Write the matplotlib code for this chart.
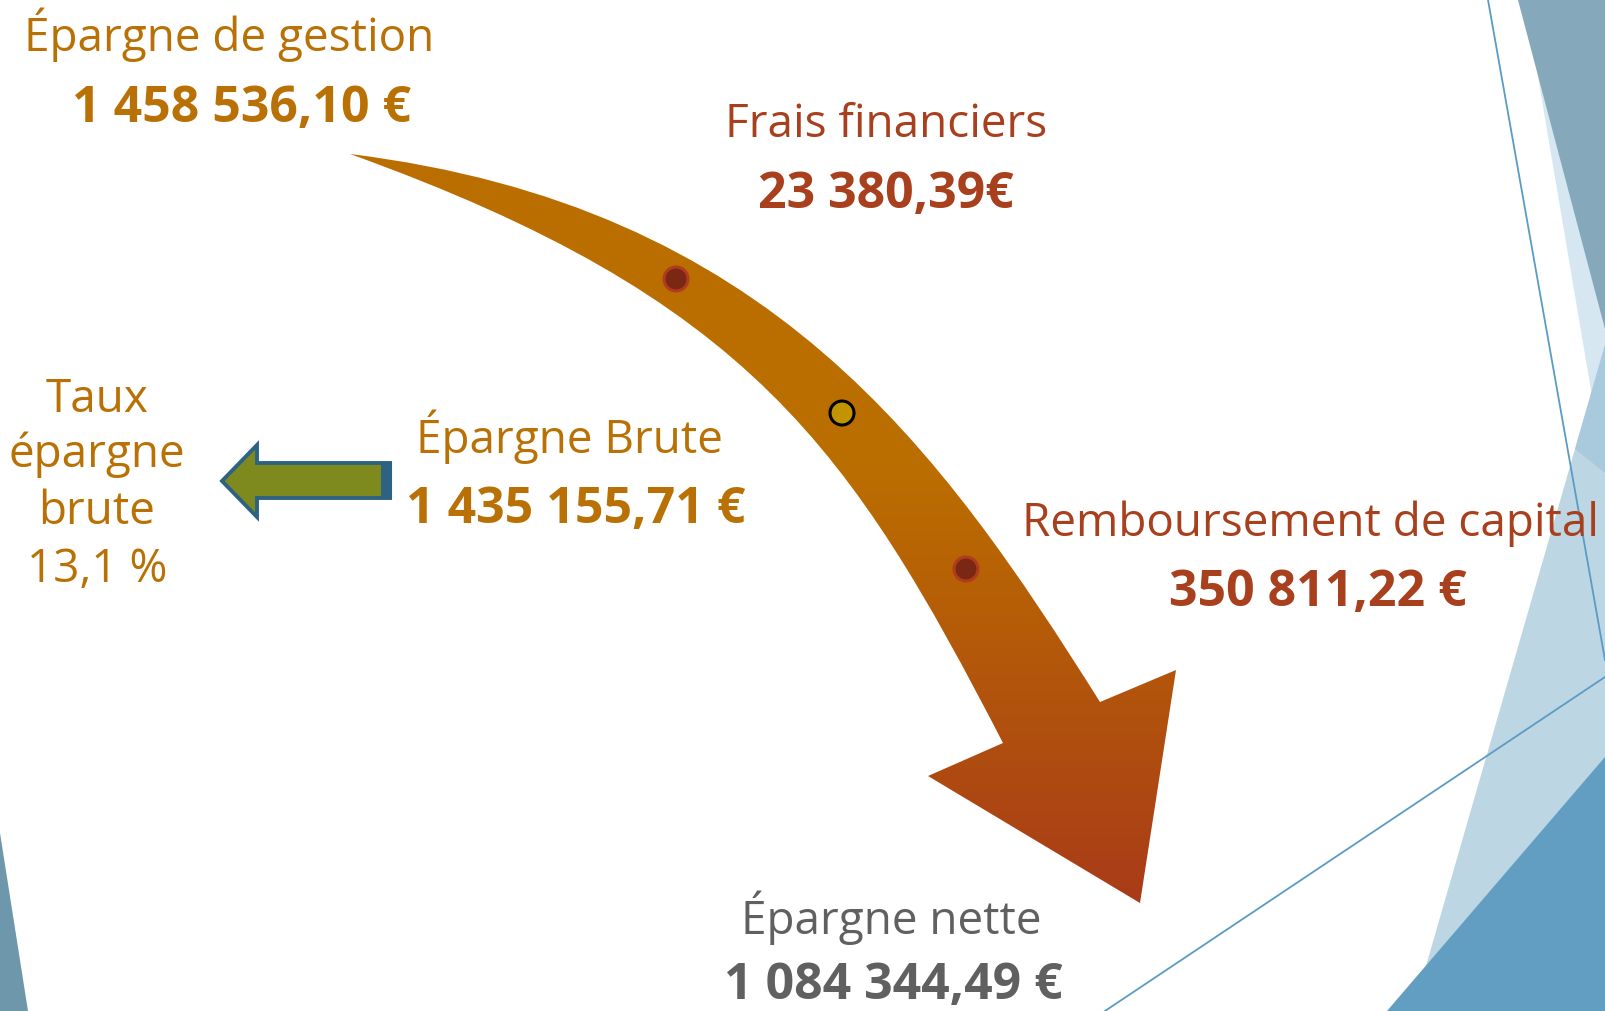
import matplotlib
matplotlib.use("Agg")
import matplotlib.pyplot as plt
import numpy as np
from matplotlib.path import Path
from matplotlib.patches import PathPatch, Polygon, Circle, Rectangle

# Text content
titles = ["Épargne de gestion", "Frais financiers", "Épargne Brute",
          "Remboursement de capital", "Épargne nette"]
amounts = ["1 458 536,10 €", "23 380,39€", "1 435 155,71 €",
           "350 811,22 €", "1 084 344,49 €"]
taux_lines = ["Taux", "épargne", "brute", "13,1 %"]

# Layout (pixel coords, y down)
title_pos = [(229, 51), (886, 137), (569, 453), (1310, 536), (891, 934)]
amount_pos = [(241, 122), (886, 208), (576, 523), (1318, 606), (893, 999)]
taux_x = 97
taux_y = [412, 467, 524, 582]

ORANGE = "#b97105"
RED = "#a83f1d"
GRAY = "#606060"
title_colors = [ORANGE, RED, ORANGE, RED, GRAY]

W, H = 1605, 1011
fig = plt.figure(figsize=(W / 100, H / 100), dpi=100)
ax = fig.add_axes([0, 0, 1, 1])
ax.set_xlim(0, W)
ax.set_ylim(H, 0)
ax.axis("off")

# Background facets (right and bottom-left)
ax.add_patch(Polygon([(1525, 0), (1605, 0), (1605, 473)], closed=True,
                     color="#d6e7f1", lw=0, zorder=1))
ax.add_patch(Polygon([(1518, 0), (1605, 0), (1605, 329)], closed=True,
                     color="#86a8bb", lw=0, zorder=2))
ax.add_patch(Polygon([(1605, 345), (1413, 1011), (1605, 1011)], closed=True,
                     color="#bdd6e4", lw=0, zorder=2))
ax.add_patch(Polygon([(1605, 345), (1575, 449), (1605, 473)], closed=True,
                     color="#a9c9dc", lw=0, zorder=2))
ax.add_patch(Polygon([(1387, 1011), (1605, 757), (1605, 1011)], closed=True,
                     color="#619ec2", lw=0, zorder=3))
ax.add_patch(Polygon([(0, 833), (28, 1011), (0, 1011)], closed=True,
                     color="#6e97ab", lw=0, zorder=3))
ax.plot([1488, 1605], [0, 660], color="#5b9bc4", lw=1.3, zorder=4)
ax.plot([1105, 1605], [1011, 677], color="#5b9bc4", lw=1.3, zorder=4)

# Curved arrow: outer edge, head, inner edge back to tail
verts = [(350, 154), (770, 206), (940, 448), (1100, 702),
         (1176, 670), (1140, 903), (928, 776), (1003, 743),
         (851, 449), (750, 298), (350, 154), (350, 154)]
codes = [Path.MOVETO, Path.CURVE4, Path.CURVE4, Path.CURVE4,
         Path.LINETO, Path.LINETO, Path.LINETO, Path.LINETO,
         Path.CURVE4, Path.CURVE4, Path.CURVE4, Path.CLOSEPOLY]
arrow = PathPatch(Path(verts, codes), facecolor="none", edgecolor="none", zorder=5)
ax.add_patch(arrow)

ys = np.linspace(150, 910, 400)
frac = np.clip((ys - 470) / (905 - 470), 0, 1)[:, None]
c0 = np.array([0xbb, 0x6e, 0x00]) / 255
c1 = np.array([0xa9, 0x3b, 0x18]) / 255
grad = (c0 + frac * (c1 - c0))[:, None, :].repeat(2, axis=1)
im = ax.imshow(grad, extent=(340, 1185, 910, 150), aspect="auto",
               zorder=5, interpolation="bilinear")
im.set_clip_path(arrow)
ax.set_xlim(0, W)
ax.set_ylim(H, 0)

# Dots on the arrow
ax.add_patch(Circle((676, 279), 12, facecolor="#7a2813", edgecolor="#b03c1e",
                    lw=2.2, zorder=6))
ax.add_patch(Circle((842, 413), 12, facecolor="#c29400", edgecolor="black",
                    lw=2.2, zorder=6))
ax.add_patch(Circle((966, 569), 12, facecolor="#7a2813", edgecolor="#b03c1e",
                    lw=2.2, zorder=6))

# Small left arrow
ax.add_patch(Polygon([(222, 481), (257, 445), (257, 463), (390, 463),
                      (390, 498), (257, 498), (257, 517)], closed=True,
                     facecolor="#7e8a1e", edgecolor="#2e6283", lw=2.8,
                     joinstyle="miter", zorder=6))
ax.add_patch(Rectangle((382, 463), 9, 35, facecolor="#2e6283",
                       edgecolor="#2e6283", lw=1.5, zorder=7))

FONT = "Open Sans"
for t, (x, y), c in zip(titles, title_pos, title_colors):
    ax.text(x, y, t, color=c, fontsize=33, family=FONT,
            ha="center", va="baseline", zorder=8)
for t, (x, y), c in zip(amounts, amount_pos, title_colors):
    ax.text(x, y, t, color=c, fontsize=36, family=FONT, fontweight="bold",
            ha="center", va="baseline", zorder=8)
for t, y in zip(taux_lines, taux_y):
    ax.text(taux_x, y, t, color=ORANGE, fontsize=33, family=FONT,
            ha="center", va="baseline", zorder=8)

fig.savefig("out.png", dpi=100, facecolor="white")
